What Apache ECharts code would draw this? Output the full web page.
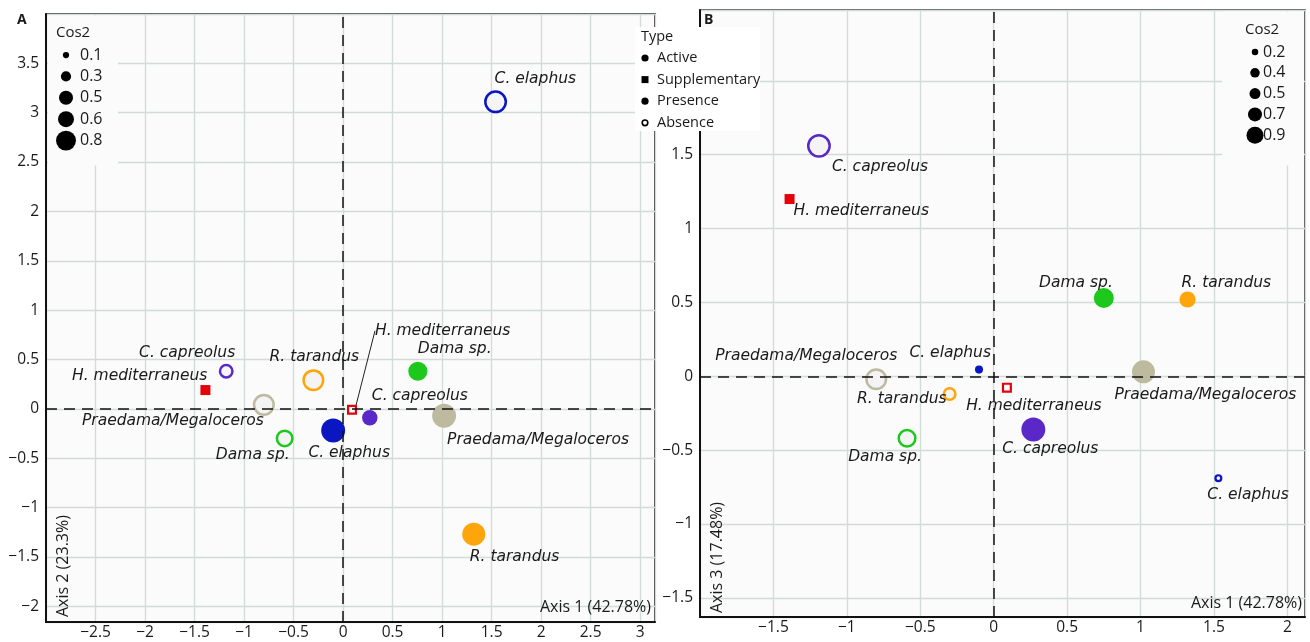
<!DOCTYPE html>
<html><head><meta charset="utf-8">
<script src="https://cdn.jsdelivr.net/npm/echarts@6/dist/echarts.min.js"></script>
<style>html,body{margin:0;padding:0;background:#fff}#c{width:1310px;height:642px}</style>
</head><body><div id="c"></div>
<script>
// ---------- DATA ----------
const speciesA = ['C. elaphus','C. capreolus','H. mediterraneus','Praedama/Megaloceros','R. tarandus','Dama sp.','C. elaphus','H. mediterraneus','C. capreolus','Dama sp.','Praedama/Megaloceros','R. tarandus'];
const stateA   = ['Absence','Absence','Presence','Absence','Absence','Absence','Presence','Absence','Presence','Presence','Presence','Presence'];
const roleA    = ['Active','Active','Supplementary','Active','Active','Active','Active','Supplementary','Active','Active','Active','Active'];
const axis1A   = [1.54,-1.18,-1.39,-0.80,-0.30,-0.59,-0.10,0.09,0.27,0.755,1.02,1.32];
const axis2A   = [3.11,0.38,0.19,0.04,0.29,-0.30,-0.22,-0.01,-0.09,0.38,-0.07,-1.27];
const cos2A    = [0.87,0.52,0.30,0.83,0.83,0.65,0.91,0.30,0.54,0.70,0.91,0.87];

const speciesB = ['C. elaphus','C. capreolus','H. mediterraneus','Praedama/Megaloceros','R. tarandus','Dama sp.','C. elaphus','H. mediterraneus','C. capreolus','Dama sp.','Praedama/Megaloceros','R. tarandus'];
const stateB   = ['Absence','Absence','Presence','Absence','Absence','Absence','Presence','Absence','Presence','Presence','Presence','Presence'];
const roleB    = ['Active','Active','Supplementary','Active','Active','Active','Active','Supplementary','Active','Active','Active','Active'];
const axis1B   = [1.53,-1.19,-1.39,-0.80,-0.30,-0.59,-0.10,0.09,0.27,0.75,1.02,1.32];
const axis3B   = [-0.69,1.56,1.20,-0.02,-0.12,-0.42,0.045,-0.077,-0.36,0.53,0.03,0.52];
const cos2B    = [0.22,0.91,0.30,0.83,0.48,0.70,0.22,0.30,0.91,0.74,0.87,0.57];

const cos2LegendA = [0.1,0.3,0.5,0.6,0.8];
const cos2LegendB = [0.2,0.4,0.5,0.7,0.9];
const typeLegend  = ['Active','Supplementary','Presence','Absence'];
const axisNameA = ['Axis 1 (42.78%)','Axis 2 (23.3%)'];
const axisNameB = ['Axis 1 (42.78%)','Axis 3 (17.48%)'];

// ---------- STYLE ----------
const FONT = '"Open Sans", "Liberation Sans", sans-serif';
const LFONT = '"DejaVu Sans", "Open Sans", sans-serif';
const colors = {
  'C. elaphus':'#0a16c2','C. capreolus':'#5a28c8','H. mediterraneus':'#e6000a',
  'Praedama/Megaloceros':'#bdbaa0','R. tarandus':'#ffa50c','Dama sp.':'#1cc81c'
};
// label anchor [align, dx, dy] (style only)
const labA = [['left',-1,-23],['right',9,-18],['right',2,-14],['right',0,16],['center',1,-23],['right',5,17],
              ['center',16,22],['left',23,-79],['left',2,-22],['left',0,-22],['left',3,24],['left',-4,23]];
const labB = [['left',-11,17],['left',13,21],['left',4,12],['right',21,-23],['right',-3,5],['center',-22,19],
              ['right',12,-17],['center',27,18],['center',17,20],['right',9,-15],['left',-29,23],['left',-6,-17]];
const legSizeA = c => 4.3 + 19.5*c;
const legSizeB = c => 3.5 + 15*c;
const ptSize = c => 3 + 23*c;

function fmt(v){ return String(v).replace('-', '\u2212'); }

function buildData(names, states, roles, xs, ys, cs, labs, lineIdx){
  return names.map((n,i)=>{
    const col = colors[n];
    const open = states[i]==='Absence';
    const sq = roles[i]==='Supplementary';
    const d = sq ? 10 : ptSize(cs[i]);
    const bw = open ? (d<11 ? 2.2 : 2.5) : 0;
    const L = labs[i];
    const item = {
      value:[xs[i], ys[i]], name:n,
      symbol: sq ? 'rect' : 'circle',
      symbolSize: open ? d - bw : d,
      itemStyle:{opacity:1, color: open ? (sq ? '#ffffff' : '#f4f4f4') : col, borderColor: col, borderWidth: bw},
      label:{show:true, formatter:n, position:'inside', align:L[0], verticalAlign:'middle', offset:[L[1], L[2]],
             fontStyle:'italic', fontSize:15.5, fontFamily:LFONT, color:'#1a1a1a'}
    };
    if (i === lineIdx) item.labelLine = {show:true, lineStyle:{color:'#222', width:1}};
    return item;
  });
}

function xAx(gi, min, max){
  return {type:'value', gridIndex:gi, min, max, minInterval:0.5, maxInterval:0.5, splitNumber:14,
    axisLine:{show:true, onZero:false, lineStyle:{color:'#111', width:2}},
    axisTick:{show:false},
    splitLine:{show:true, lineStyle:{color:'#d0dcd8', width:1.3}},
    axisLabel:{showMinLabel:false, showMaxLabel:false, formatter:fmt, color:'#1a1a1a', fontSize:15.5, fontFamily:FONT, margin:3}};
}
function yAx(gi, min, max){
  const a = xAx(gi, min, max);
  a.axisLabel = Object.assign({}, a.axisLabel, {margin:7});
  return a;
}
const zeroLines = {silent:true, symbol:['none','none'], label:{show:false},
  lineStyle:{color:'#111', type:[11,7], width:1.5}, data:[{xAxis:0},{yAxis:0}]};

// legends (graphic)
const g = [];
function txt(x,y,t,opt){ g.push(Object.assign({type:'text', z:101, style:Object.assign({x, y, text:t, fontFamily:FONT, fontSize:14.5, fill:'#1a1a1a', verticalAlign:'middle'}, opt||{})})); }
// Cos2 legend A
g.push({type:'rect', z:100, shape:{x:48, y:15.5, width:70, height:150}, style:{fill:'#fbfbfb'}});
txt(56, 33, 'Cos2', {fontSize:15});
cos2LegendA.forEach((c,i)=>{ const y = 55 + i*21.4; g.push({type:'circle', z:101, shape:{cx:66, cy:y, r:legSizeA(c)/2}, style:{fill:'#000'}}); txt(80, y, String(c), {fontSize:16}); });
// Cos2 legend B
g.push({type:'rect', z:100, shape:{x:1222, y:11.5, width:82, height:154}, style:{fill:'#fbfbfb'}});
txt(1245, 30, 'Cos2', {fontSize:15});
cos2LegendB.forEach((c,i)=>{ const y = 52 + i*20.8; g.push({type:'circle', z:101, shape:{cx:1255, cy:y, r:legSizeB(c)/2}, style:{fill:'#000'}}); txt(1263, y, String(c), {fontSize:16}); });
// Type legend
g.push({type:'rect', z:100, shape:{x:635, y:27, width:125, height:104}, style:{fill:'#ffffff'}});
txt(641, 37, 'Type');
typeLegend.forEach((t,i)=>{
  const y = 58 + i*21.6;
  if (t==='Supplementary') g.push({type:'rect', z:101, shape:{x:641.5, y:y-3.5, width:7, height:7}, style:{fill:'#000'}});
  else if (t==='Absence') g.push({type:'circle', z:101, shape:{cx:645, cy:y, r:2.8}, style:{fill:'#fff', stroke:'#000', lineWidth:1.6}});
  else g.push({type:'circle', z:101, shape:{cx:645, cy:y, r:3.6}, style:{fill:'#000'}});
  txt(657, y, t);
});
// panel letters
txt(17, 20, 'A', {fontWeight:'bold', fontSize:14});
txt(704, 20, 'B', {fontWeight:'bold', fontSize:14});
// axis names
txt(651, 607, axisNameA[0], {align:'right', fontSize:16});
g.push({type:'text', z:101, x:63, y:617, rotation:Math.PI/2, style:{text:axisNameA[1], fontFamily:FONT, fontSize:16, fill:'#1a1a1a', align:'left', verticalAlign:'middle'}});
txt(1302, 603, axisNameB[0], {align:'right', fontSize:16});
g.push({type:'text', z:101, x:717, y:613, rotation:Math.PI/2, style:{text:axisNameB[1], fontFamily:FONT, fontSize:16, fill:'#1a1a1a', align:'left', verticalAlign:'middle'}});

const chart = echarts.init(document.getElementById('c'), null, {renderer:'canvas'});
chart.setOption({
  animation:false,
  backgroundColor:'#ffffff',
  grid:[
    {left:46, top:14, width:609, height:608, show:true, borderColor:'#111', borderWidth:1.5, backgroundColor:'#fbfbfb'},
    {left:700, top:10, width:605, height:607, show:true, borderColor:'#222', borderWidth:1.5, backgroundColor:'#fbfbfb'}
  ],
  xAxis:[xAx(0,-3,3.15), xAx(1,-2,2.12)],
  yAxis:[yAx(0,-2.16,4), yAx(1,-1.63,2.48)],
  series:[
    {type:'scatter', xAxisIndex:0, yAxisIndex:0, data:buildData(speciesA,stateA,roleA,axis1A,axis2A,cos2A,labA,7), markLine:zeroLines, z:3},
    {type:'scatter', xAxisIndex:1, yAxisIndex:1, data:buildData(speciesB,stateB,roleB,axis1B,axis3B,cos2B,labB,-1), markLine:zeroLines, z:3}
  ],
  graphic:g
});
</script></body></html>
